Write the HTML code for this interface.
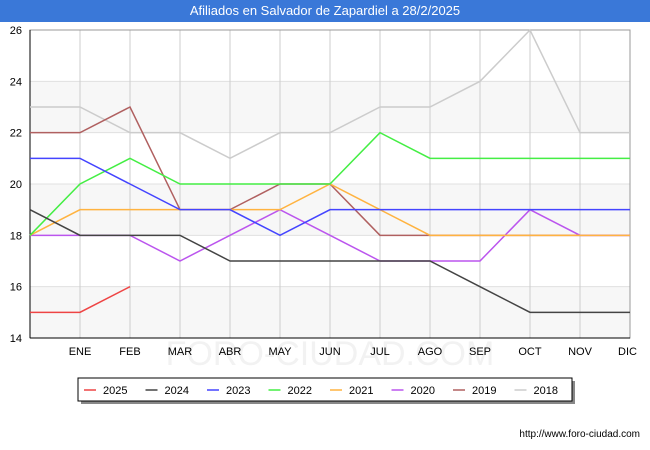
<!DOCTYPE html>
<html><head><meta charset="utf-8"><style>
body{margin:0;width:650px;height:450px;background:#fff;font-family:"Liberation Sans",sans-serif;position:relative;overflow:hidden}
#title{position:absolute;left:0;top:0;width:650px;height:22px;background:#3a78d8;color:#fff;font-size:13px;text-align:center;line-height:22px}
svg{position:absolute;left:0;top:0}
</style></head><body>
<div id="title">Afiliados en Salvador de Zapardiel a 28/2/2025</div>
<svg id="chart" width="650" height="450"></svg>
<script>
const months=["","ENE","FEB","MAR","ABR","MAY","JUN","JUL","AGO","SEP","OCT","NOV","DIC"];
const yTicks=[14,16,18,20,22,24,26];
const seriesNames=["2025","2024","2023","2022","2021","2020","2019","2018"];
const seriesColors=["#ee4444","#444444","#4444ff","#44ee44","#ffb340","#bb55ee","#b06060","#cccccc"];
const s2025=[15,15,16];
const s2024=[19,18,18,18,17,17,17,17,17,16,15,15,15];
const s2023=[21,21,20,19,19,18,19,19,19,19,19,19,19];
const s2022=[18,20,21,20,20,20,20,22,21,21,21,21,21];
const s2021=[18,19,19,19,19,19,20,19,18,18,18,18,18];
const s2020=[18,18,18,17,18,19,18,17,17,17,19,18,18];
const s2019=[22,22,23,19,19,20,20,18,18,18,18,18,18];
const s2018=[23,23,22,22,21,22,22,23,23,24,26,22,22];
const allSeries=[s2025,s2024,s2023,s2022,s2021,s2020,s2019,s2018];
const svg=document.getElementById('chart');const NS="http://www.w3.org/2000/svg";
const L=30,R=630,T=30,B=338,yMin=14,yMax=26;
const xs=i=>L+i*(R-L)/12, ys=v=>B-(v-yMin)*(B-T)/(yMax-yMin);
function mk(t,a,p){const e=document.createElementNS(NS,t);for(const k in a)e.setAttribute(k,a[k]);(p||svg).appendChild(e);return e;}
for(let v=14;v<26;v+=4){const r=mk('rect',{x:L,y:ys(v+2),width:R-L,height:ys(v)-ys(v+2),fill:'#f7f7f7'});

}
const wm=mk('text',{x:330,y:365,'text-anchor':'middle','font-size':'34',fill:'#f2f2f2'});wm.textContent="FORO-CIUDAD.COM";


yTicks.forEach(v=>{const l=mk('line',{x1:L,x2:R,y1:ys(v),y2:ys(v),stroke:'#e0e0e0'});


const t=mk('text',{x:L-8,y:ys(v)+4,'text-anchor':'end','font-size':'11',fill:'#000'});t.textContent=v;

});
months.forEach((m,i)=>{if(i>0){const l=mk('line',{x1:xs(i),x2:xs(i),y1:T,y2:B,stroke:'#cccccc'});

}
const t=mk('text',{x:xs(i),y:B+17,'text-anchor':i==12?'end':'middle','font-size':'11',fill:'#000'});t.textContent=m;
if(i==12)t.setAttribute('x',xs(i)+7);

});
mk('rect',{x:L,y:T,width:R-L,height:B-T,fill:'none',stroke:'#999'});
mk('line',{x1:L,x2:L,y1:T,y2:B,stroke:'#000'});
mk('line',{x1:L,x2:R,y1:B,y2:B,stroke:'#000'});
for(let k=allSeries.length-1;k>=0;k--){const d=allSeries[k];
const p=mk('polyline',{points:d.map((v,i)=>xs(i)+','+ys(v)).join(' '),fill:'none',stroke:seriesColors[k],'stroke-width':'1.5'});

}
mk('rect',{x:81,y:381,width:494,height:23,fill:'#888'});
const lg=mk('rect',{x:78,y:378,width:494,height:23,fill:'#fff',stroke:'#000'});


seriesNames.forEach((n,i)=>{const x0=84+i*61.5;
const g=mk('g',{});


mk('line',{x1:x0,x2:x0+12,y1:390,y2:390,stroke:seriesColors[i],'stroke-width':'1.5'},g);
const t=mk('text',{x:x0+19,y:394,'font-size':'11',fill:'#000'},g);t.textContent=n;});
const u=mk('text',{x:640,y:437,'text-anchor':'end','font-size':'10',fill:'#000'});u.textContent="http://www.foro-ciudad.com";


</script>
</body></html>
